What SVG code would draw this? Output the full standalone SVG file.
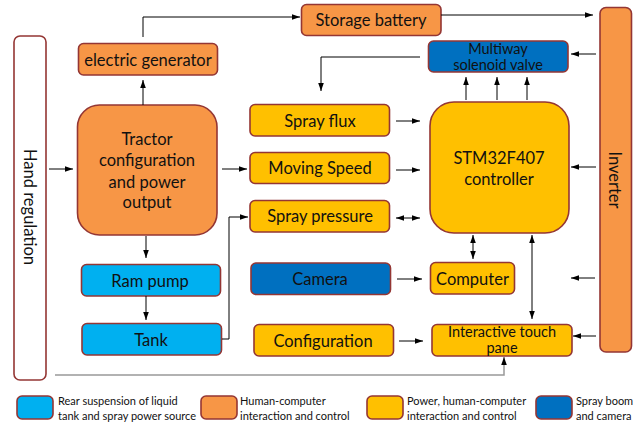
<svg xmlns="http://www.w3.org/2000/svg" width="639" height="424" viewBox="0 0 639 424">
<defs>
<style>
.b{stroke:#943634;stroke-width:1.6}
.or{fill:#F79646}.ye{fill:#FFC000}.lb{fill:#00B0F0}.db{fill:#0070C0}.wh{fill:#FFFFFF}
text{font-family:Lato,"Liberation Sans",sans-serif;fill:#111;text-anchor:middle;dominant-baseline:central}
.t{font-size:16.5px}
.t2{font-size:14.5px}
.s{font-size:11px;text-anchor:start}
.c line,.c polyline{stroke:#000;stroke-width:1;fill:none}
</style>
<marker id="a" viewBox="0 0 10 10" refX="10" refY="5" markerWidth="8" markerHeight="8" markerUnits="userSpaceOnUse" orient="auto-start-reverse"><path d="M0,1.5 L10,5 L0,8.5 Z" fill="#000"/></marker>
</defs>
<rect width="639" height="424" fill="#fff"/>

<g id="hand"><rect class="b wh" x="14" y="36" width="32" height="344" rx="6"/><text class="t" transform="translate(30,207) rotate(90)">Hand regulation</text></g>
<g id="generator"><rect class="b or" x="78.5" y="43.5" width="139" height="31.5" rx="5"/><text class="t" x="148" y="59.5">electric generator</text></g>
<g id="battery"><rect class="b or" x="301.5" y="4.5" width="139.5" height="31" rx="5"/><text class="t" x="371" y="20">Storage battery</text></g>
<g id="inverter"><rect class="b or" x="600" y="7.5" width="31.5" height="344.5" rx="6"/><text class="t" transform="translate(615,180) rotate(90)">Inverter</text></g>
<g id="solenoid"><rect class="b db" x="428.5" y="41" width="139.5" height="31" rx="5"/><text class="t2" x="498" y="48">Multiway</text><text class="t2" x="498" y="64">solenoid valve</text></g>
<g id="tractor"><rect class="b or" x="77.5" y="105" width="139.5" height="130" rx="22"/><text class="t" x="147" y="138.5">Tractor</text><text class="t" x="147" y="160">configuration</text><text class="t" x="147" y="181.5">and power</text><text class="t" x="147" y="202">output</text></g>
<g id="flux"><rect class="b ye" x="250" y="104.5" width="139.5" height="31.5" rx="5"/><text class="t" x="320" y="120.5">Spray flux</text></g>
<g id="speed"><rect class="b ye" x="250" y="152.5" width="139.5" height="31" rx="5"/><text class="t" x="320" y="168">Moving Speed</text></g>
<g id="pressure"><rect class="b ye" x="250" y="200.5" width="139.5" height="31.5" rx="5"/><text class="t" x="320" y="216">Spray pressure</text></g>
<g id="controller"><rect class="b ye" x="430" y="102" width="139" height="131" rx="24"/><text class="t" x="499" y="157.5">STM32F407</text><text class="t" x="499" y="179">controller</text></g>
<g id="rampump"><rect class="b lb" x="81.5" y="264.5" width="139" height="31.5" rx="5"/><text class="t" x="150" y="280.5">Ram pump</text></g>
<g id="tank"><rect class="b lb" x="82" y="323.5" width="139.5" height="31.5" rx="5"/><text class="t" x="151" y="339.5">Tank</text></g>
<g id="camera"><rect class="b db" x="251" y="263" width="139.5" height="31.5" rx="5"/><text class="t" x="320" y="279">Camera</text></g>
<g id="computer"><rect class="b ye" x="430.5" y="262.5" width="84" height="31.5" rx="5"/><text class="t" x="472.5" y="278.5">Computer</text></g>
<g id="configuration"><rect class="b ye" x="254" y="324.5" width="139.5" height="31.5" rx="5"/><text class="t" x="323" y="340.5">Configuration</text></g>
<g id="touch"><rect class="b ye" x="432" y="324.5" width="140" height="31.5" rx="5"/><text class="t2" x="502" y="331.5">Interactive touch</text><text class="t2" x="502" y="347">pane</text></g>

<g id="connectors" class="c">
<polyline points="143,37 143,17 300,17" marker-end="url(#a)"/>
<line x1="441" y1="15" x2="593" y2="15" marker-end="url(#a)"/>
<line x1="143" y1="105" x2="143" y2="80" marker-end="url(#a)"/>
<polyline points="420,57 321,57 321,91" marker-end="url(#a)"/>
<line x1="596" y1="54" x2="571" y2="54" marker-end="url(#a)"/>
<line x1="466" y1="100" x2="466" y2="77" marker-end="url(#a)"/>
<line x1="497" y1="100" x2="497" y2="77" marker-end="url(#a)"/>
<line x1="527" y1="100" x2="527" y2="77" marker-end="url(#a)"/>
<line x1="49" y1="169" x2="73" y2="169" marker-end="url(#a)"/>
<line x1="222" y1="169" x2="247" y2="169" marker-end="url(#a)"/>
<line x1="396" y1="121" x2="420" y2="121" marker-end="url(#a)"/>
<line x1="396" y1="170" x2="420" y2="170" marker-end="url(#a)"/>
<line x1="396" y1="218" x2="420" y2="218" marker-start="url(#a)" marker-end="url(#a)"/>
<line x1="596" y1="167" x2="571" y2="167" marker-end="url(#a)"/>
<line x1="146" y1="236" x2="146" y2="258" marker-end="url(#a)"/>
<line x1="146" y1="296" x2="146" y2="320" marker-end="url(#a)"/>
<polyline points="222,339 229,339 229,217 248,217" marker-end="url(#a)"/>
<line x1="397" y1="279" x2="422" y2="279" marker-end="url(#a)"/>
<line x1="595" y1="278" x2="571" y2="278" marker-end="url(#a)"/>
<line x1="473" y1="235" x2="473" y2="259" marker-start="url(#a)" marker-end="url(#a)"/>
<line x1="532" y1="235" x2="532" y2="319" marker-start="url(#a)" marker-end="url(#a)"/>
<line x1="399" y1="341" x2="423" y2="341" marker-end="url(#a)"/>
<line x1="596" y1="336" x2="573" y2="336" marker-end="url(#a)"/>
<polyline points="55,375 504,375 504,357" style="stroke:#999;stroke-width:1.5" marker-end="url(#a)"/>
</g>

<g id="legend">
<rect class="b lb" x="17" y="396" width="36" height="23" rx="5"/>
<text class="s" x="58" y="400">Rear suspension of liquid</text><text class="s" x="58" y="415">tank and spray power source</text>
<rect class="b or" x="201" y="396" width="36" height="23" rx="5"/>
<text class="s" x="240" y="400">Human-computer</text><text class="s" x="240" y="415">interaction and control</text>
<rect class="b ye" x="367" y="396" width="36" height="23" rx="5"/>
<text class="s" x="407" y="400">Power, human-computer</text><text class="s" x="407" y="415">interaction and control</text>
<rect class="b db" x="536" y="396" width="36" height="23" rx="5"/>
<text class="s" x="576" y="400">Spray boom</text><text class="s" x="576" y="415">and camera</text>
</g>
</svg>
